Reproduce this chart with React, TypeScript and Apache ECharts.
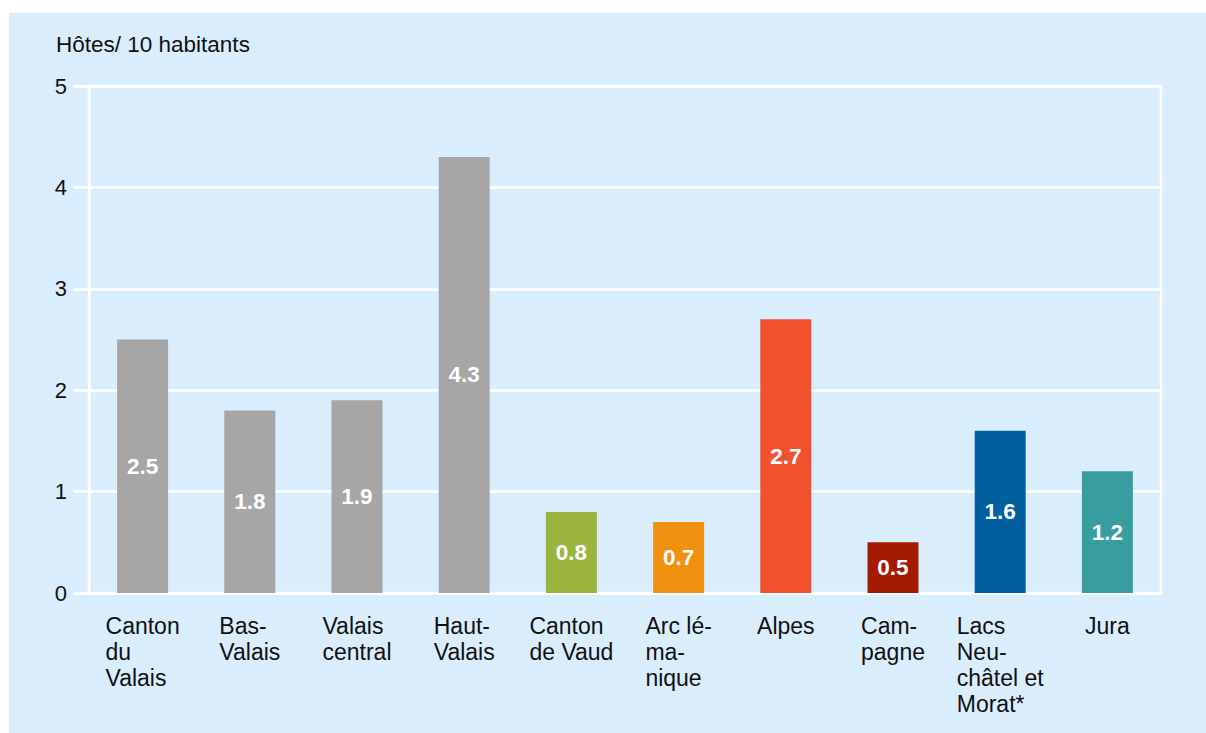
import React, { useEffect, useRef } from "react";
import * as echarts from "echarts";

const categories = [
  "Canton\ndu\nValais",
  "Bas-\nValais",
  "Valais\ncentral",
  "Haut-\nValais",
  "Canton\nde Vaud",
  "Arc lé-\nma-\nnique",
  "Alpes",
  "Cam-\npagne",
  "Lacs\nNeu-\nchâtel et\nMorat*",
  "Jura",
];
const values = [2.5, 1.8, 1.9, 4.3, 0.8, 0.7, 2.7, 0.5, 1.6, 1.2];
const barColors = [
  "#a6a6a6",
  "#a6a6a6",
  "#a6a6a6",
  "#a6a6a6",
  "#9bb43f",
  "#f0900f",
  "#f0522d",
  "#a51a03",
  "#00609f",
  "#389d9f",
];
const yAxisTitle = "Hôtes/ 10 habitants";
const yMin = 0;
const yMax = 5;
const yInterval = 1;

const FONT = "'Liberation Sans', Arial, Helvetica, sans-serif";

export default function App() {
  const ref = useRef<HTMLDivElement>(null);

  useEffect(() => {
    document.body.style.margin = "0";
    if (!ref.current) return;
    const chart = echarts.init(ref.current, undefined, { renderer: "svg" });
    chart.setOption({
      animation: false,
      backgroundColor: "transparent",
      textStyle: { fontFamily: FONT },
      title: {
        text: yAxisTitle,
        left: 47,
        top: 20,
        padding: 0,
        textStyle: {
          fontFamily: FONT,
          fontSize: 22.5,
          fontWeight: "normal",
          color: "#111",
        },
      },
      grid: {
        left: 80,
        top: 73,
        width: 1072,
        height: 507,
        show: true,
        borderColor: "#ffffff",
        borderWidth: 2.5,
        backgroundColor: "transparent",
      },
      xAxis: {
        type: "category",
        data: categories,
        axisLine: { show: true, lineStyle: { color: "#ffffff", width: 2.5 } },
        axisTick: { show: false },
        axisLabel: {
          interval: 0,
          margin: 20,
          color: "#111",
          fontFamily: FONT,
          fontSize: 23,
          lineHeight: 26,
          align: "center",
          verticalAlign: "top",
          formatter: (v: string) =>
            v
              .split("\n")
              .map((l) => `{a|${l}}`)
              .join("\n"),
          rich: {
            a: {
              align: "left",
              fontFamily: FONT,
              fontSize: 23,
              lineHeight: 26,
              color: "#111",
            },
          },
        },
      },
      yAxis: {
        type: "value",
        min: yMin,
        max: yMax,
        interval: yInterval,
        axisLine: { show: true, lineStyle: { color: "#ffffff", width: 2.5 } },
        axisTick: {
          show: true,
          length: 16,
          lineStyle: { color: "#ffffff", width: 2.5 },
        },
        splitLine: { show: true, lineStyle: { color: "#ffffff", width: 2.5 } },
        axisLabel: {
          margin: 22,
          color: "#111",
          fontFamily: FONT,
          fontSize: 22,
        },
      },
      series: [
        {
          type: "bar",
          barWidth: 51,
          data: values.map((v, i) => ({
            value: v,
            itemStyle: { color: barColors[i] },
          })),
          label: {
            show: true,
            position: "inside",
            color: "#ffffff",
            fontFamily: FONT,
            fontWeight: "bold",
            fontSize: 22.5,
            formatter: (p: any) => Number(p.value).toFixed(1),
          },
        },
      ],
    });
    return () => chart.dispose();
  }, []);

  return (
    <div
      style={{
        position: "relative",
        width: 1206,
        height: 733,
        background: "#ffffff",
        overflow: "hidden",
      }}
    >
      <div
        style={{
          position: "absolute",
          left: 9,
          top: 13,
          width: 1197,
          height: 720,
          background: "#daedfc",
        }}
      >
        <div ref={ref} style={{ width: 1197, height: 720 }} />
      </div>
    </div>
  );
}
